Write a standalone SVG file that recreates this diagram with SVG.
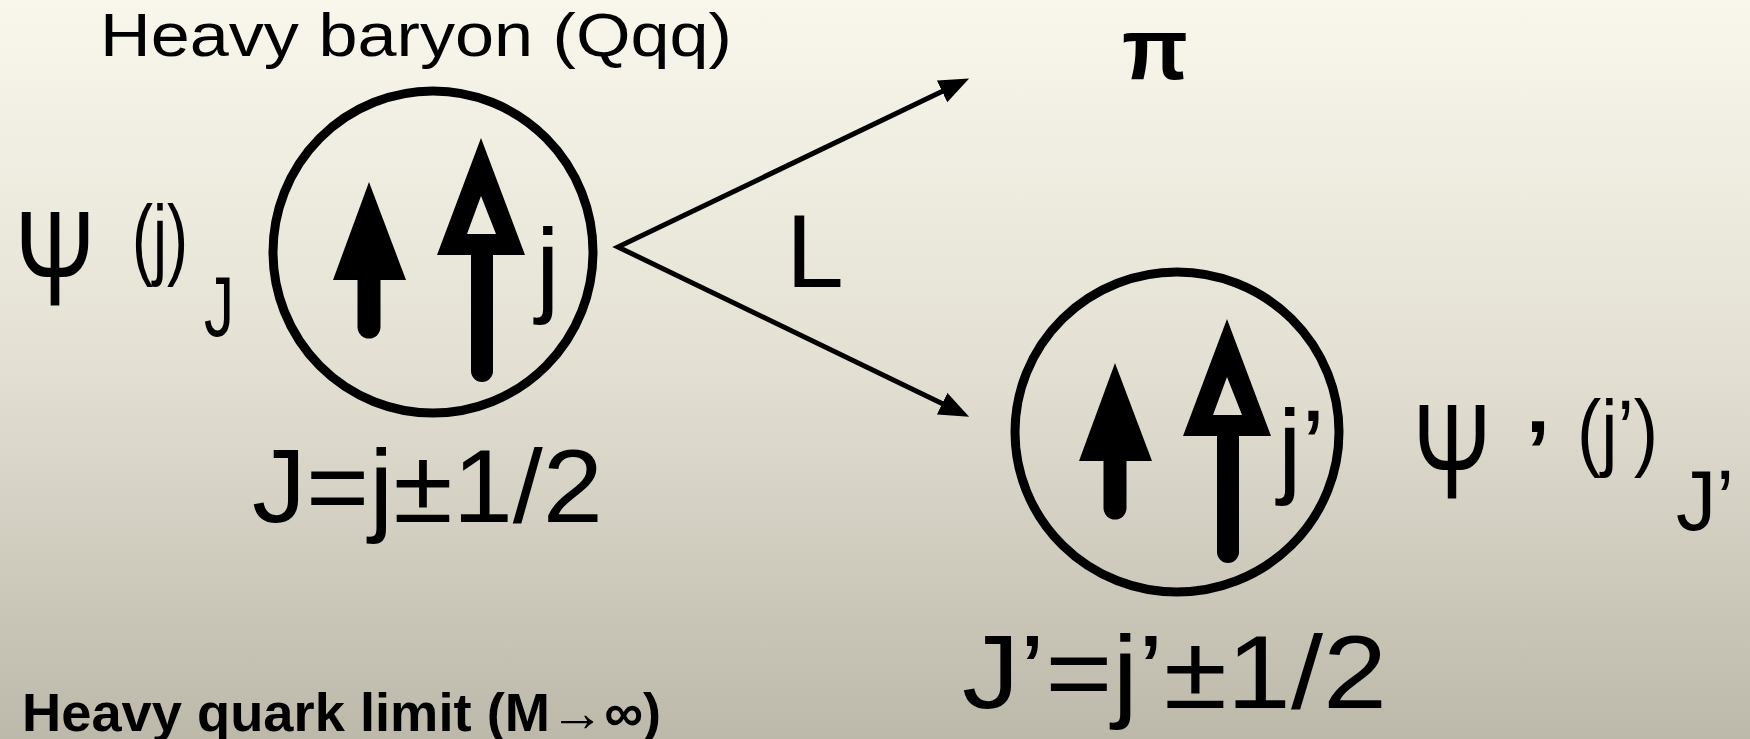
<svg xmlns="http://www.w3.org/2000/svg" xmlns:xlink="http://www.w3.org/1999/xlink" width="1750" height="739" viewBox="0 0 1750 739">
<defs>
<linearGradient id="bg" x1="0" y1="0" x2="0" y2="1">
<stop offset="0" stop-color="#f9f7ec"/>
<stop offset="0.5" stop-color="#e3e0d3"/>
<stop offset="1" stop-color="#bcb9ab"/>
</linearGradient>
<marker id="ah" viewBox="0 0 30 24" refX="16" refY="12" markerWidth="30" markerHeight="24" markerUnits="userSpaceOnUse" orient="auto-start-reverse">
<path d="M0,0 L30,12 L0,24 z" fill="#000"/>
</marker>
<g id="spins">
<path d="M369,182 L406,280 L333,280 z" fill="#000"/>
<line x1="369" y1="276" x2="369" y2="327" stroke="#000" stroke-width="23" stroke-linecap="round"/>
<path d="M481,138 L525,255 L437,255 z M481,196 L467,234 L496,234 z" fill="#000" fill-rule="evenodd"/>
<line x1="482" y1="252" x2="482" y2="371" stroke="#000" stroke-width="22" stroke-linecap="round"/>
</g>
</defs>
<style>
.t{font-family:"Liberation Sans",Arial,sans-serif;fill:#000}
.ring{fill:none;stroke:#000;stroke-width:9}
.conn{fill:none;stroke:#000;stroke-width:5;stroke-linejoin:miter}
</style>
<rect x="0" y="0" width="1750" height="739" fill="url(#bg)"/>

<g id="title">
<text class="t" x="100" y="56" font-size="62" textLength="632" lengthAdjust="spacingAndGlyphs">Heavy baryon (Qqq)</text>
</g>

<g id="baryon">
<ellipse class="ring" cx="433" cy="252" rx="160" ry="161"/>
<use xlink:href="#spins"/>
<text class="t" x="536" y="303" font-size="106">j</text>
</g>

<g id="psi-label">
<text class="t" x="15" y="305" font-size="136" textLength="80" lengthAdjust="spacingAndGlyphs">Ψ</text>
<text class="t" x="132" y="268" font-size="89" textLength="56" lengthAdjust="spacingAndGlyphs">(j)</text>
<text class="t" x="204" y="336" font-size="86" textLength="30" lengthAdjust="spacingAndGlyphs">J</text>
</g>

<g id="J-rule">
<text class="t" x="252" y="522" font-size="104" textLength="351" lengthAdjust="spacingAndGlyphs">J=j±1/2</text>
</g>

<g id="connectors">
<path class="conn" d="M956.5,84.5 L618,247 L956.5,410.6" marker-start="url(#ah)" marker-end="url(#ah)"/>
</g>

<g id="L-label">
<text class="t" x="786" y="287" font-size="104">L</text>
</g>

<g id="pion">
<text class="t" x="1122" y="79" font-size="87" font-weight="bold" textLength="66" lengthAdjust="spacingAndGlyphs">π</text>
</g>

<g id="daughter">
<ellipse class="ring" cx="1177" cy="432" rx="162" ry="160"/>
<use xlink:href="#spins" transform="translate(746,181)"/>
<text class="t" x="1278" y="484" font-size="106">j’</text>
</g>

<g id="psi-prime-label">
<text class="t" x="1413" y="498" font-size="136" textLength="78" lengthAdjust="spacingAndGlyphs">Ψ</text>
<text class="t" x="1526" y="480" font-size="86" font-weight="bold">’</text>
<text class="t" x="1577" y="460" font-size="86" textLength="81" lengthAdjust="spacingAndGlyphs">(j’)</text>
<text class="t" x="1676" y="530" font-size="86" textLength="58" lengthAdjust="spacingAndGlyphs">J’</text>
</g>

<g id="J-prime-rule">
<text class="t" x="962" y="708" font-size="104" textLength="425" lengthAdjust="spacingAndGlyphs">J’=j’±1/2</text>
</g>

<g id="limit">
<text class="t" x="22" y="731" font-size="54" font-weight="bold" textLength="639" lengthAdjust="spacingAndGlyphs">Heavy quark limit (M→∞)</text>
</g>
</svg>
